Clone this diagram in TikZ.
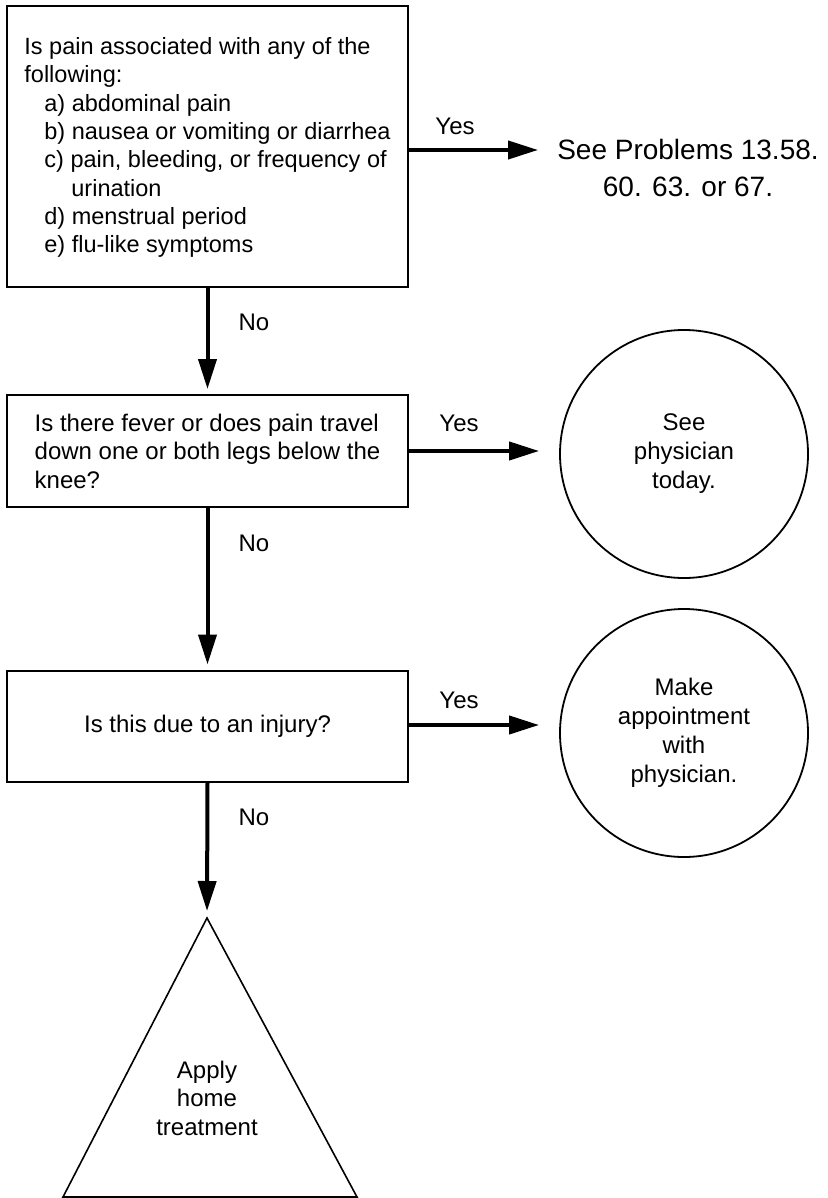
\documentclass[tikz,border=0pt]{standalone}
\usepackage{fontspec}
\setmainfont{Liberation Sans}
\usetikzlibrary{arrows.meta}
\begin{document}
\begin{tikzpicture}[x=1pt,y=-1pt,
  txt/.style={font=\fontsize{24}{28.5}\selectfont, inner sep=0pt},
  qbox/.style={draw, line width=2pt, minimum width=401pt, inner sep=0pt,
    font=\fontsize{24}{28.5}\selectfont},
  endcirc/.style={draw, circle, line width=1.8pt, minimum size=248pt, inner sep=0pt,
    align=center, font=\fontsize{24}{29}\selectfont},
  arr/.style={line width=4pt, -{Triangle[length=30pt,width=18pt]}},
  ]
\useasboundingbox (0,0) rectangle (827,1198);

% question boxes
\node[qbox, minimum height=281pt, align=left, font=\fontsize{23.5}{28.3}\selectfont] (b1) at (207.5,146.5)
  {\rule{0pt}{19pt}Is pain associated with any of the\\
   following:\\
   \hspace*{20pt}a) abdominal pain\\
   \hspace*{20pt}b) nausea or vomiting or diarrhea\hspace*{10pt}\\
   \hspace*{20pt}c) pain, bleeding, or frequency of\\
   \hspace*{47pt}urination\\
   \hspace*{20pt}d) menstrual period\\
   \hspace*{20pt}e) flu-like symptoms};

\node[qbox, minimum height=112pt, align=left] (b2) at (207.5,451)
  {Is there fever or does pain travel\\
   down one or both legs below the\\
   knee?};

\node[qbox, minimum height=111pt, align=center] (b3) at (207.5,726)
  {Is this due to an injury?};

% outcomes
\node[inner sep=0pt, align=center, font=\fontsize{28}{37}\selectfont] (prob) at (688,168)
  {See Problems 13.58.\\60. 63. or 67.};

\node[endcirc] (c1) at (684,454) {See\\physician\\today.};
\node[endcirc] (c2) at (684,733) {Make\\appointment\\with\\physician.};

\coordinate (apex) at (207,918);
\coordinate (bl) at (63,1197);
\coordinate (br) at (357,1197);
\draw[line width=1.6pt, line join=miter] (apex) -- (bl) -- (br) -- cycle;
\node[txt, align=center] (tri) at (207,1098) {Apply\\home\\treatment};

% connectors
\draw[arr, shorten >=19pt] ([yshift=-3.5pt]b1.east) -- ([yshift=-3.5pt]b1.east -| prob.west);
\draw[arr, shorten >=20pt] (b2.east) -- (b2.east -| c1.west);
\draw[arr, shorten >=20pt] ([yshift=1pt]b3.east) -- ([yshift=1pt]b3.east -| c2.west);

\draw[arr, shorten >=5pt] (b1.south) -- (b2.north);
\draw[arr, shorten >=5pt] (b2.south) -- (b3.north);
\draw[arr, shorten >=7pt] (b3.south) -- (apex);

% labels
\node[txt] (y1) at (455,126) {Yes};
\node[txt] (y2) at (459,423) {Yes};
\node[txt] (y3) at (459,700) {Yes};
\node[txt] (n1) at (254,322) {No};
\node[txt] (n2) at (254,543) {No};
\node[txt] (n3) at (254,817) {No};
\end{tikzpicture}
\end{document}
